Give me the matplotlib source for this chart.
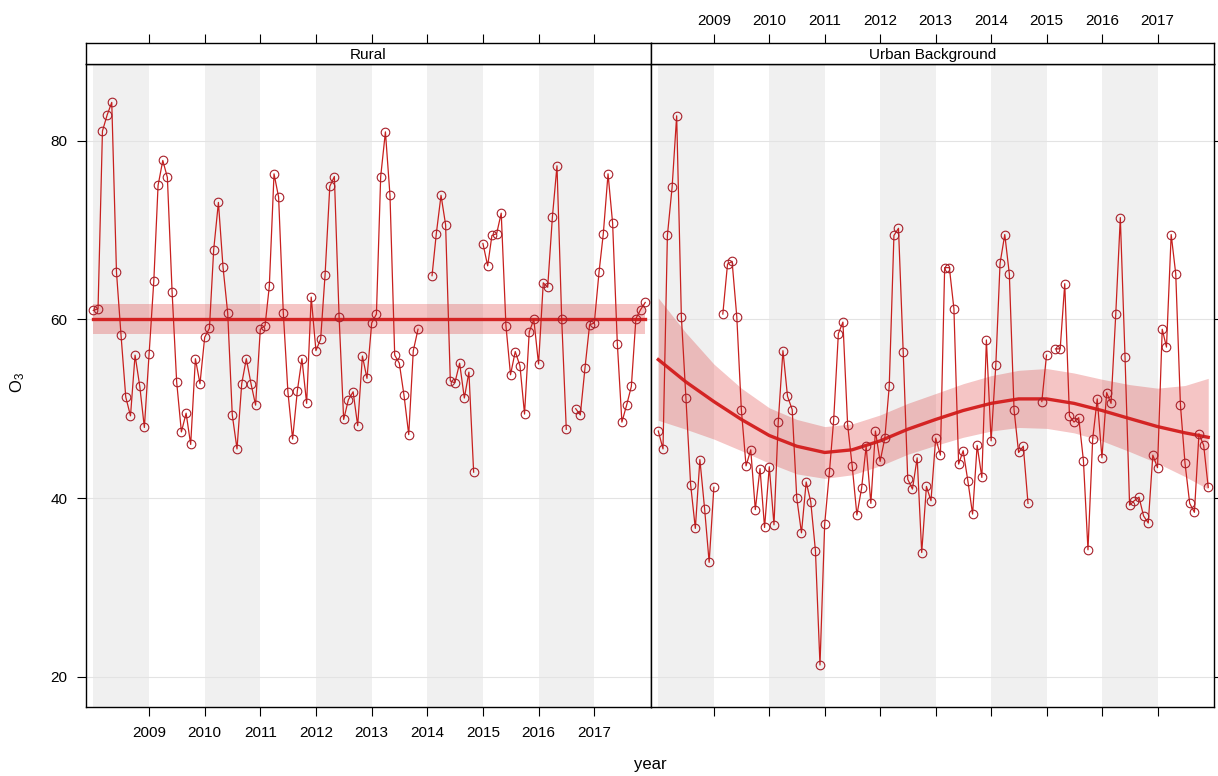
import numpy as np
import pandas as pd
import matplotlib
matplotlib.use('Agg')
import matplotlib.pyplot as plt

plt.rcParams['font.family'] = ['Liberation Sans', 'DejaVu Sans']
plt.rcParams['mathtext.default'] = 'regular'

nan = np.nan

# monthly mean O3, Jan 2008 - Dec 2017
months = pd.date_range('2008-01-01', periods=120, freq='MS')

rural_o3 = [61.0, 61.2, 81.1, 82.9, 84.3, 65.3, 58.2, 51.3, 49.2, 56.0, 52.5, 47.9,
            56.1, 64.3, 75.0, 77.8, 75.9, 63.1, 53.0, 47.4, 49.5, 46.0, 55.6, 52.8,
            58.0, 59.0, 67.8, 73.1, 65.9, 60.7, 49.3, 45.5, 52.8, 55.6, 52.8, 50.4,
            58.9, 59.3, 63.7, 76.3, 73.7, 60.7, 51.9, 46.6, 52.0, 55.6, 50.6, 62.5,
            56.5, 57.8, 65.0, 74.9, 76.0, 60.3, 48.8, 51.0, 51.9, 48.1, 55.9, 53.4,
            59.6, 60.6, 76.0, 81.0, 73.9, 56.0, 55.1, 51.5, 47.1, 56.5, 58.9, nan,
            nan, 64.9, 69.6, 73.9, 70.6, 53.1, 52.9, 55.1, 51.2, 54.1, 42.9, nan,
            68.5, 66.0, 69.4, 69.6, 71.9, 59.3, 53.8, 56.4, 54.8, 49.4, 58.6, 60.0,
            55.0, 64.1, 63.6, 71.5, 77.2, 60.0, 47.7, nan, 50.0, 49.3, 54.6, 59.4,
            59.6, 65.3, 69.6, 76.3, 70.8, 57.3, 48.5, 50.4, 52.5, 60.1, 61.1, 61.9]

urban_o3 = [47.5, 45.5, 69.4, 74.8, 82.8, 60.3, 51.2, 41.5, 36.6, 44.3, 38.8, 32.8,
            41.2, nan, 60.6, 66.2, 66.5, 60.3, 49.9, 43.6, 45.4, 38.7, 43.3, 36.7,
            43.5, 37.0, 48.5, 56.5, 51.4, 49.9, 40.0, 36.1, 41.8, 39.6, 34.1, 21.3,
            37.1, 42.9, 48.7, 58.4, 59.7, 48.2, 43.6, 38.1, 41.1, 45.8, 39.4, 47.5,
            44.1, 46.7, 52.5, 69.4, 70.2, 56.4, 42.1, 41.0, 44.5, 33.9, 41.3, 39.7,
            46.7, 44.8, 65.8, 65.8, 61.2, 43.8, 45.3, 41.9, 38.2, 45.9, 42.3, 57.7,
            46.4, 54.9, 66.3, 69.5, 65.1, 49.9, 45.1, 45.8, 39.4, nan, nan, 50.8,
            56.0, nan, 56.7, 56.7, 64.0, 49.2, 48.5, 49.0, 44.2, 34.2, 46.6, 51.1,
            44.5, 51.8, 50.6, 60.6, 71.4, 55.8, 39.2, 39.7, 40.1, 38.0, 37.2, 44.8,
            43.4, 58.9, 56.9, 69.5, 65.1, 50.4, 43.9, 39.4, 38.4, 47.2, 45.9, 41.2]

# smooth trend with 95% band
rural_trend_dates = pd.to_datetime(['2008-01-01', '2017-12-01'])
rural_trend = [60.1, 60.1]
rural_lower = [58.4, 58.4]
rural_upper = [61.7, 61.7]

urban_trend_dates = pd.to_datetime([
    '2008-01-01', '2008-07-01', '2009-01-01', '2009-07-01', '2010-01-01', '2010-07-01',
    '2011-01-01', '2011-07-01', '2012-01-01', '2012-07-01', '2013-01-01', '2013-07-01',
    '2014-01-01', '2014-07-01', '2015-01-01', '2015-07-01', '2016-01-01', '2016-07-01',
    '2017-01-01', '2017-07-01', '2017-12-01'])
urban_trend = [55.5, 53.0, 50.8, 48.8, 47.0, 45.8, 45.1, 45.4, 46.4, 47.7, 48.8,
               49.8, 50.6, 51.1, 51.1, 50.6, 49.8, 48.9, 48.0, 47.3, 46.8]
urban_lower = [48.7, 47.7, 46.6, 45.3, 43.9, 42.7, 42.2, 42.6, 43.6, 44.9, 45.9,
               46.8, 47.5, 47.9, 47.8, 47.3, 46.4, 45.2, 43.9, 42.4, 41.0]
urban_upper = [62.4, 58.5, 55.0, 52.3, 50.1, 48.8, 48.0, 48.3, 49.3, 50.6, 51.7,
               52.8, 53.7, 54.3, 54.5, 54.0, 53.3, 52.7, 52.3, 52.6, 53.4]

sites = ['Rural', 'Urban Background']
year_ticks = list(range(2009, 2018))
shaded_years = [2008, 2010, 2012, 2014, 2016]
o3_ticks = [20, 40, 60, 80]

x_lo = pd.Timestamp('2007-11-14')
x_hi = pd.Timestamp('2018-01-08')
tick_dates = [pd.Timestamp(f'{y}-01-01') for y in year_ticks]

W, H = 1218, 776
fig = plt.figure(figsize=(W / 100, H / 100), dpi=100)

panel_x = [(86, 651), (651, 1214)]
top_px, bot_px, strip_top_px = 64, 707, 43

line_col = '#C8201E'
dot_col = '#A8202A'
trend_col = '#D42424'
band_col = (0.86, 0.16, 0.16)

series = [(rural_o3, rural_trend_dates, rural_trend, rural_lower, rural_upper),
          (urban_o3, urban_trend_dates, urban_trend, urban_lower, urban_upper)]

for i, (x0, x1) in enumerate(panel_x):
    obs, tdates, trend, lo, hi = series[i]
    ax = fig.add_axes([x0 / W, 1 - bot_px / H, (x1 - x0) / W, (bot_px - top_px) / H])
    ax.set_xlim(x_lo, x_hi)
    ax.set_ylim(16.6, 88.6)

    for y in shaded_years:
        ax.axvspan(pd.Timestamp(f'{y}-01-01'), pd.Timestamp(f'{y + 1}-01-01'),
                   color='#F0F0F0', lw=0, zorder=0)
    for v in o3_ticks:
        ax.axhline(v, color='#E3E3E3', lw=0.8, zorder=0.5)

    ax.fill_between(tdates, lo, hi, color=band_col, alpha=0.27, lw=0, zorder=1)
    ax.plot(tdates, trend, color=trend_col, lw=2.4, zorder=2)
    ax.plot(months, obs, color=line_col, lw=0.9, marker='o', ms=6.2,
            mfc='none', mec=dot_col, mew=0.8, zorder=3)

    ax.set_xticks(tick_dates)
    ax.set_yticks(o3_ticks)
    ax.tick_params(direction='out', length=6.5, width=0.8, labelsize=11, pad=7)
    if i == 0:
        ax.set_xticklabels([str(y) for y in year_ticks])
        ax.set_yticklabels([str(v) for v in o3_ticks])
    else:
        ax.set_xticklabels([])
        ax.yaxis.tick_right()
        ax.set_yticklabels([])
    for s in ax.spines.values():
        s.set_linewidth(1.0)

    # strip with site name and top axis
    sx = fig.add_axes([x0 / W, 1 - top_px / H, (x1 - x0) / W, (top_px - strip_top_px) / H])
    sx.set_xlim(x_lo, x_hi)
    sx.set_ylim(0, 1)
    sx.set_yticks([])
    sx.xaxis.tick_top()
    sx.set_xticks(tick_dates)
    sx.tick_params(direction='out', length=6.5, width=0.8, labelsize=11, pad=4)
    if i == 1:
        sx.set_xticklabels([str(y) for y in year_ticks])
    else:
        sx.set_xticklabels([])
    for s in sx.spines.values():
        s.set_linewidth(1.0)
    sx.text(0.5, 0.45, sites[i], transform=sx.transAxes, ha='center', va='center',
            fontsize=11)

fig.text(18 / W, 1 - 383 / H, 'O$_3$', rotation=90, ha='center', va='center', fontsize=12)
fig.text(650 / W, 1 - 765 / H, 'year', ha='center', va='center', fontsize=12)

fig.savefig('out.png', dpi=100)
